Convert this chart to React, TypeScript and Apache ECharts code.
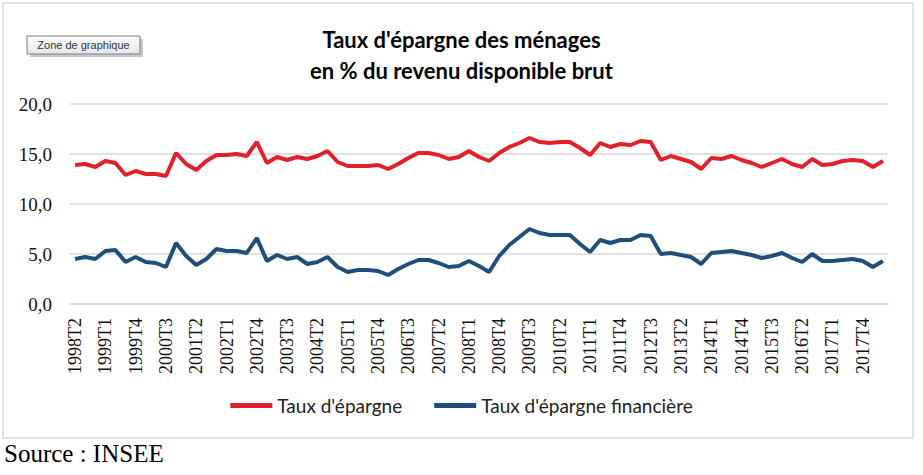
import React, { useEffect, useRef } from "react";
import * as echarts from "echarts";

const startYear = 1998;
const startQuarter = 2;
const nQuarters = 81;
const categories: string[] = [];
for (let k = 0; k < nQuarters; k++) {
  const q = startQuarter - 1 + k;
  categories.push(`${startYear + Math.floor(q / 4)}T${(q % 4) + 1}`);
}

const tauxEpargne = [
  13.9, 14.0, 13.7, 14.3, 14.1, 12.9, 13.3, 13.0, 13.0, 12.8,
  15.1, 14.0, 13.4, 14.3, 14.9, 14.9, 15.0, 14.8, 16.2, 14.1,
  14.7, 14.4, 14.7, 14.5, 14.8, 15.3, 14.2, 13.8, 13.8, 13.8,
  13.9, 13.5, 14.0, 14.6, 15.1, 15.1, 14.9, 14.5, 14.7, 15.3,
  14.7, 14.3, 15.1, 15.7, 16.1, 16.6, 16.2, 16.1, 16.2, 16.2,
  15.6, 14.9, 16.1, 15.7, 16.0, 15.9, 16.3, 16.2, 14.4, 14.8,
  14.5, 14.2, 13.5, 14.6, 14.5, 14.8, 14.4, 14.1, 13.7, 14.1,
  14.5, 14.0, 13.7, 14.5, 13.9, 14.0, 14.3, 14.4, 14.3, 13.7,
  14.3,
];

const tauxEpargneFinanciere = [
  4.5, 4.7, 4.5, 5.3, 5.4, 4.2, 4.7, 4.2, 4.1, 3.7,
  6.1, 4.8, 3.9, 4.5, 5.5, 5.3, 5.3, 5.1, 6.6, 4.3,
  4.9, 4.5, 4.7, 4.0, 4.2, 4.7, 3.7, 3.2, 3.4, 3.4,
  3.3, 2.9, 3.5, 4.0, 4.4, 4.4, 4.1, 3.7, 3.8, 4.3,
  3.8, 3.2, 4.8, 5.9, 6.7, 7.5, 7.1, 6.9, 6.9, 6.9,
  6.0, 5.2, 6.4, 6.1, 6.4, 6.4, 6.9, 6.8, 5.0, 5.1,
  4.9, 4.7, 4.0, 5.1, 5.2, 5.3, 5.1, 4.9, 4.6, 4.8,
  5.1, 4.6, 4.2, 5.0, 4.3, 4.3, 4.4, 4.5, 4.3, 3.7,
  4.3,
];

const seriesNames = ["Taux d'épargne", "Taux d'épargne financière"];
const titleLines = ["Taux d'épargne des ménages", "en % du revenu disponible brut"];

export default function App() {
  const ref = useRef<HTMLDivElement>(null);
  useEffect(() => {
    if (!ref.current) return;
    const chart = echarts.init(ref.current, undefined, { renderer: "svg" });
    chart.setOption({
      animation: false,
      backgroundColor: "#ffffff",
      title: {
        text: titleLines.join("\n"),
        left: "center",
        top: 19,
        textStyle: {
          fontFamily: "Lato",
          fontWeight: "bold",
          fontSize: 22,
          lineHeight: 31,
          color: "#000",
        },
      },
      grid: { left: 70, top: 104, width: 818, height: 200 },
      legend: {
        bottom: 55,
        left: "center",
        icon: "rect",
        itemWidth: 42,
        itemHeight: 5,
        itemGap: 32,
        textStyle: { fontFamily: "Lato", fontSize: 19, color: "#222" },
        data: seriesNames,
      },
      xAxis: {
        type: "category",
        data: categories,
        boundaryGap: true,
        axisLine: { show: true, lineStyle: { color: "#d9d9d9", width: 1.5 } },
        axisTick: { show: false },
        axisLabel: {
          interval: 2,
          rotate: 90,
          margin: 14,
          fontFamily: "Liberation Serif",
          fontSize: 18,
          color: "#111",
        },
      },
      yAxis: {
        type: "value",
        min: 0,
        max: 20,
        interval: 5,
        axisLine: { show: false },
        axisTick: { show: false },
        splitLine: { lineStyle: { color: "#d9d9d9", width: 1.5 } },
        axisLabel: {
          margin: 18,
          fontFamily: "Liberation Serif",
          fontSize: 19,
          color: "#111",
          formatter: (v: number) => v.toFixed(1).replace(".", ","),
        },
      },
      series: [
        {
          name: seriesNames[0],
          type: "line",
          data: tauxEpargne,
          showSymbol: false,
          symbol: "none",
          lineStyle: { color: "#E2202A", width: 4 },
          itemStyle: { color: "#E2202A" },
        },
        {
          name: seriesNames[1],
          type: "line",
          data: tauxEpargneFinanciere,
          showSymbol: false,
          symbol: "none",
          lineStyle: { color: "#1F4E79", width: 4 },
          itemStyle: { color: "#1F4E79" },
        },
      ],
      graphic: [
        {
          type: "rect",
          shape: { x: 3, y: 3, width: 910, height: 435 },
          style: { fill: "none", stroke: "#d9d9d9", lineWidth: 1.5 },
          z: -1,
        },
        {
          type: "rect",
          shape: { x: 30, y: 39, width: 113, height: 18 },
          style: { fill: "#c8c8c8", stroke: "none" },
        },
        {
          type: "rect",
          shape: { x: 27, y: 36, width: 113, height: 18 },
          style: {
            fill: new echarts.graphic.LinearGradient(0, 0, 0, 1, [
              { offset: 0, color: "#ffffff" },
              { offset: 1, color: "#e4e6ee" },
            ]),
            stroke: "#7d7d7d",
            lineWidth: 1,
          },
        },
        {
          type: "text",
          x: 83.5,
          y: 45,
          style: {
            text: "Zone de graphique",
            fontFamily: "Liberation Sans",
            fontSize: 11,
            fill: "#333",
            align: "center",
            verticalAlign: "middle",
          },
        },
        {
          type: "text",
          x: 4,
          y: 453,
          style: {
            text: "Source : INSEE",
            fontFamily: "Liberation Serif",
            fontSize: 25,
            fill: "#000",
            align: "left",
            verticalAlign: "middle",
          },
        },
      ],
    });
    return () => chart.dispose();
  }, []);
  return (
    <div
      ref={ref}
      style={{ position: "absolute", left: 0, top: 0, width: 923, height: 475 }}
    />
  );
}
